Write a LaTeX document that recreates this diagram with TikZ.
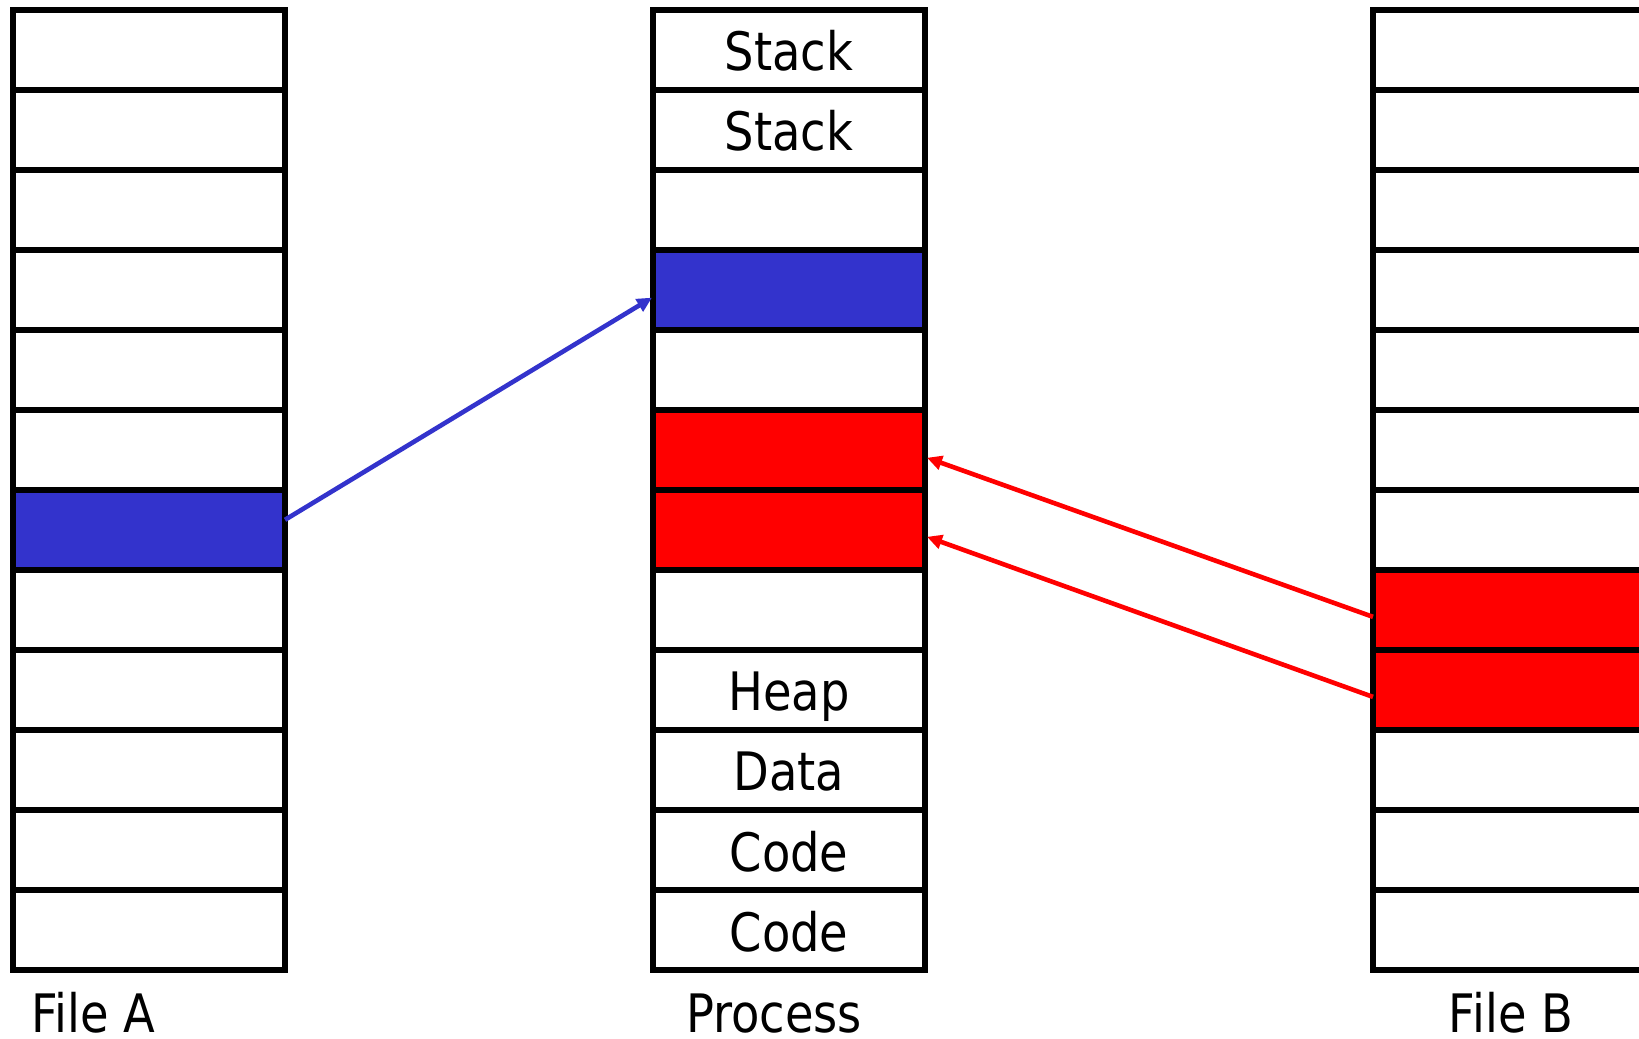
\documentclass[tikz,border=0pt]{standalone}
\usepackage{fontspec}
\setmainfont[FakeStretch=0.875]{DejaVu Sans}
\usetikzlibrary{arrows.meta,calc}
\definecolor{mapblue}{HTML}{3333CC}
\definecolor{mapred}{HTML}{FF0000}
\tikzset{
  cell/.style={draw=black, fill=white, line width=6pt, minimum width=272pt,
    minimum height=80pt, inner sep=0pt, outer sep=0pt,
    text height=42pt, text depth=0pt, font=\fontsize{53}{60}\selectfont},
  caption/.style={anchor=base, inner sep=0pt, font=\fontsize{53}{60}\selectfont},
  mapto/.style={line width=4.6pt, -{Triangle[length=15pt,width=14pt]}},
}
\newcommand{\rowy}[1]{49.5+(#1-1)*80.05}
\begin{document}
\begin{tikzpicture}[x=1pt,y=-1pt]
\path[use as bounding box, clip] (0,0) rectangle (1639,1039);
\fill[white] (0,0) rectangle (1639,1039);

% File A column
\foreach \i in {1,...,12}
  \node[cell] (a\i) at (149,{\rowy{\i}}) {};
\node[cell, fill=mapblue] (a7) at (149,{\rowy{7}}) {};

% File B column
\foreach \i in {1,...,12}
  \node[cell] (b\i) at (1509,{\rowy{\i}}) {};
\node[cell, fill=mapred] (b8) at (1509,{\rowy{8}}) {};
\node[cell, fill=mapred] (b9) at (1509,{\rowy{9}}) {};

% Process address space
\node[cell] (p1) at (789,{\rowy{1}}) {Stack};
\node[cell] (p2) at (789,{\rowy{2}}) {Stack};
\node[cell] (p3) at (789,{\rowy{3}}) {};
\node[cell, fill=mapblue] (p4) at (789,{\rowy{4}}) {};
\node[cell] (p5) at (789,{\rowy{5}}) {};
\node[cell, fill=mapred] (p6) at (789,{\rowy{6}}) {};
\node[cell, fill=mapred] (p7) at (789,{\rowy{7}}) {};
\node[cell] (p8) at (789,{\rowy{8}}) {};
\node[cell] (p9) at (789,{\rowy{9}}) {Heap};
\node[cell] (p10) at (789,{\rowy{10}}) {Data};
\node[cell] (p11) at (789,{\rowy{11}}) {Code};
\node[cell] (p12) at (789,{\rowy{12}}) {Code};

% Captions
\node[caption, anchor=base west] (capA) at (31,1032) {File A};
\node[caption] (capP) at (774,1032) {Process};
\node[caption] (capB) at (1511,1032) {File B};

% Mappings
\draw[mapto, mapblue] ($(a7.east)+(0,-10)$) -- ($(p4.west)+(-1,8)$);
\draw[mapto, mapred] ($(b8.west)+(0,7)$) -- ($(p6.east)+(2,8)$);
\draw[mapto, mapred] ($(b9.west)+(0,7)$) -- ($(p7.east)+(2,7)$);
\end{tikzpicture}
\end{document}
